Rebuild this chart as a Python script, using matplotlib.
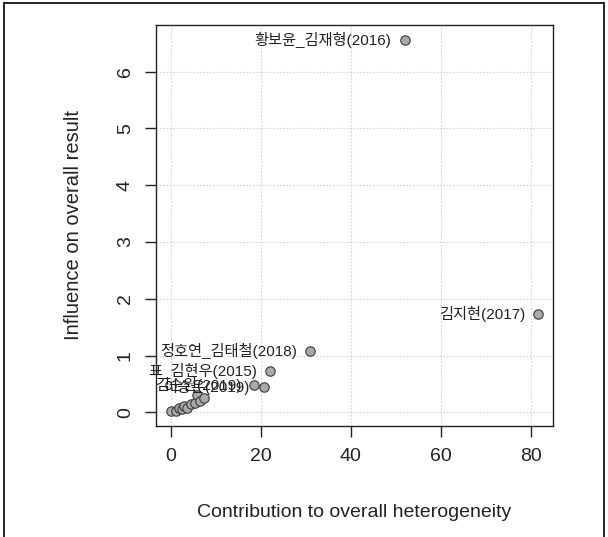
import numpy as np
import matplotlib
matplotlib.use('Agg')
import matplotlib.pyplot as plt
from matplotlib.lines import Line2D

plt.rcParams['font.family'] = ['Liberation Sans', 'Noto Sans CJK KR', 'DejaVu Sans']

# ---------------------------
# Baujat plot values (read off)
# ---------------------------
studlab = ['황보윤_김재형(2016)', '김지현(2017)', '정호연_김태철(2018)',
           '표_김현우(2015)', '김순원(2019)', '이승은(2019)']
x_lab = [51.9, 81.6, 31.0, 22.1, 18.6, 20.6]
y_lab = [6.56, 1.73, 1.08, 0.73, 0.48, 0.44]

# small studies close to the origin (labels clipped / hidden)
x_rest = [0.0, 1.1, 1.8, 2.5, 2.9, 3.6, 4.4, 5.5, 5.8, 6.6, 7.3]
y_rest = [0.02, 0.03, 0.08, 0.05, 0.11, 0.08, 0.14, 0.17, 0.30, 0.20, 0.26]

x_all = np.array(x_lab + x_rest)
y_all = np.array(y_lab + y_rest)

# Figure
fig = plt.figure(figsize=(6.08, 5.37), dpi=100)
ax = fig.add_axes([156/608, 1-426/537, (553-156)/608, (426-25)/537])

# R-like 4% axis extension
rx = x_all.max() - x_all.min()
ry = y_all.max() - y_all.min()
ax.set_xlim(x_all.min() - 0.04*rx, x_all.max() + 0.04*rx)
ax.set_ylim(y_all.min() - 0.04*ry, y_all.max() + 0.04*ry)

ax.set_xticks([0, 20, 40, 60, 80])
ax.set_yticks([0, 1, 2, 3, 4, 5, 6])
ax.grid(True, color='#d3d3d3', ls=(0, (1.5, 1.5)), lw=0.8)
ax.set_axisbelow(True)

ax.scatter(x_all, y_all, s=46, c='#a9a9a9', edgecolors='#3a3a3a', linewidths=0.8, zorder=3)

for lab, xx, yy in zip(studlab, x_lab, y_lab):
    ax.annotate(lab, (xx, yy), xytext=(-9.5, 0), textcoords='offset points',
                ha='right', va='center', fontsize=11, color='#222222',
                annotation_clip=False, clip_on=False, zorder=4)

for s in ax.spines.values():
    s.set_linewidth(1.0)
    s.set_color('#222222')

ax.tick_params(axis='both', direction='out', length=8, width=1.0, colors='#222222',
               labelsize=14, pad=8)
for t in ax.get_yticklabels():
    t.set_rotation(90)
    t.set_va('center')

ax.set_xlabel('Contribution to overall heterogeneity', fontsize=14, color='#222222', labelpad=28)
ax.set_ylabel('Influence on overall result', fontsize=14.5, color='#222222', labelpad=24)

# outer frame of the picture
for xs, ys in [([0.006, 0.006], [0.0, 0.994]), ([0.006, 0.993], [0.994, 0.994]),
               ([0.993, 0.993], [0.0, 0.994])]:
    fig.add_artist(Line2D(xs, ys, color='black', lw=1.2, transform=fig.transFigure))

fig.savefig('out.png', dpi=100)
